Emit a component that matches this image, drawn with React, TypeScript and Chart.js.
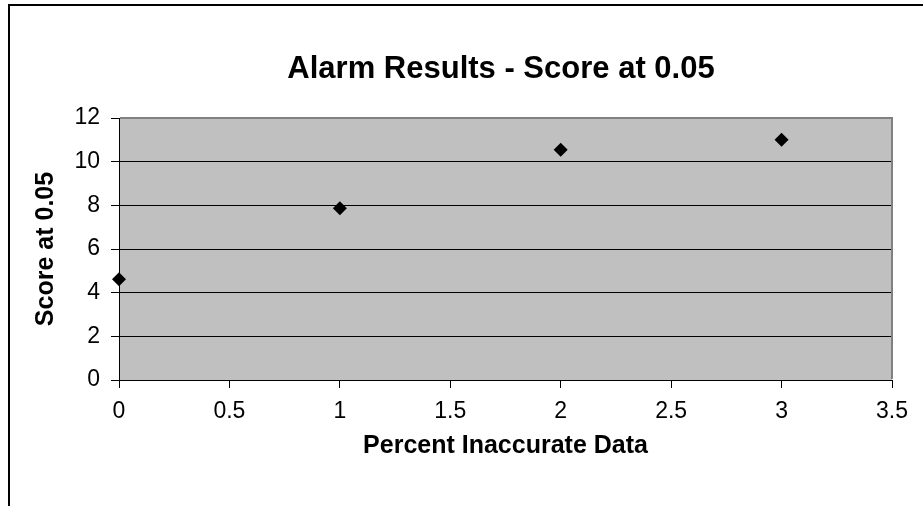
import React, { useEffect, useRef } from "react";
import { Chart, registerables } from "chart.js";

Chart.register(...registerables);

const percentInaccurate = [0, 1, 2, 3];
const scoreAt005 = [4.62, 7.87, 10.55, 11.0];
const chartTitle = "Alarm Results - Score at 0.05";
const xAxisTitle = "Percent Inaccurate Data";
const yAxisTitle = "Score at 0.05";

const FONT = "'Liberation Sans', Arial, sans-serif";
const CANVAS_W = 1002;
const CANVAS_H = 506;

const plotBgPlugin = {
  id: "plotBg",
  beforeDraw(chart: any) {
    const { ctx, chartArea } = chart;
    ctx.save();
    ctx.fillStyle = "#C0C0C0";
    ctx.fillRect(chartArea.left, chartArea.top, chartArea.right - chartArea.left, chartArea.bottom - chartArea.top);
    ctx.restore();
  },
  beforeDatasetsDraw(chart: any) {
    const { ctx, chartArea } = chart;
    ctx.save();
    ctx.strokeStyle = "#808080";
    ctx.lineWidth = 2;
    ctx.beginPath();
    ctx.moveTo(chartArea.left + 1, chartArea.top);
    ctx.lineTo(chartArea.right, chartArea.top);
    ctx.lineTo(chartArea.right, chartArea.bottom - 1);
    ctx.stroke();
    ctx.restore();
  },
};

export default function App() {
  const ref = useRef<HTMLCanvasElement | null>(null);
  useEffect(() => {
    if (!ref.current) return;
    const data = percentInaccurate.map((x, i) => ({ x, y: scoreAt005[i] }));
    const chart = new Chart(ref.current, {
      type: "scatter",
      data: {
        datasets: [
          {
            label: yAxisTitle,
            data,
            xAxisID: "x",
            yAxisID: "y",
            clip: false,
            pointStyle: "rectRot",
            pointRadius: 7,
            pointBackgroundColor: "#000000",
            pointBorderColor: "#000000",
            pointBorderWidth: 0,
            showLine: false,
          },
        ],
      },
      options: {
        responsive: false,
        animation: false,
        devicePixelRatio: 1,
        layout: { padding: 0 },
        plugins: {
          legend: { display: false },
          tooltip: { enabled: false },
          title: {
            display: true,
            text: chartTitle,
            color: "#000000",
            font: { family: FONT, size: 31, weight: "bold", lineHeight: 1.2 },
            padding: { top: 51, bottom: 29.8 },
          },
        },
        scales: {
          x: {
            type: "linear",
            min: 0,
            max: 3.5,
            afterFit(scale: any) {
              scale.height = 126;
            },
            ticks: {
              stepSize: 0.5,
              color: "#000000",
              padding: 10,
              font: { family: FONT, size: 23 },
              maxRotation: 0,
              callback: (v: any) => String(Number(v)),
            },
            grid: {
              drawOnChartArea: false,
              drawTicks: true,
              tickLength: 8,
              color: "#000000",
              lineWidth: 1,
            },
            border: { display: true, color: "#000000", width: 1 },
            title: {
              display: true,
              text: xAxisTitle,
              color: "#000000",
              font: { family: FONT, size: 25, weight: "bold", lineHeight: 1.2 },
              padding: { top: 0, bottom: 45 },
            },
          },
          y: {
            type: "linear",
            position: "left",
            min: 0,
            max: 12,
            afterFit(scale: any) {
              scale.width = 119;
            },
            ticks: {
              stepSize: 2,
              color: "#000000",
              padding: 11,
              font: { family: FONT, size: 23 },
              callback: (v: any) => String(Number(v)),
            },
            grid: {
              drawOnChartArea: true,
              drawTicks: true,
              tickLength: 8,
              color: "#000000",
              lineWidth: 1,
            },
            border: { display: true, color: "#000000", width: 1 },
            title: {
              display: true,
              text: yAxisTitle,
              color: "#000000",
              font: { family: FONT, size: 25, weight: "bold", lineHeight: 1.2 },
              padding: { top: 31, bottom: 0 },
            },
          },
          yRightSpace: {
            type: "linear",
            position: "right",
            display: true,
            min: 0,
            max: 12,
            afterFit(scale: any) {
              scale.width = CANVAS_W - 892;
            },
            ticks: { display: false },
            grid: { display: false, drawOnChartArea: false, drawTicks: false },
            border: { display: false },
            title: { display: false },
          },
        },
      },
      plugins: [plotBgPlugin],
    });
    return () => chart.destroy();
  }, []);

  return (
    <div>
      <div
        style={{
          position: "fixed",
          left: 8,
          top: 4,
          width: 2000,
          height: 2000,
          border: "2px solid #000000",
          background: "#ffffff",
        }}
      />
      <canvas
        ref={ref}
        width={CANVAS_W}
        height={CANVAS_H}
        style={{ position: "fixed", left: 0, top: 0, width: CANVAS_W, height: CANVAS_H }}
      />
    </div>
  );
}
